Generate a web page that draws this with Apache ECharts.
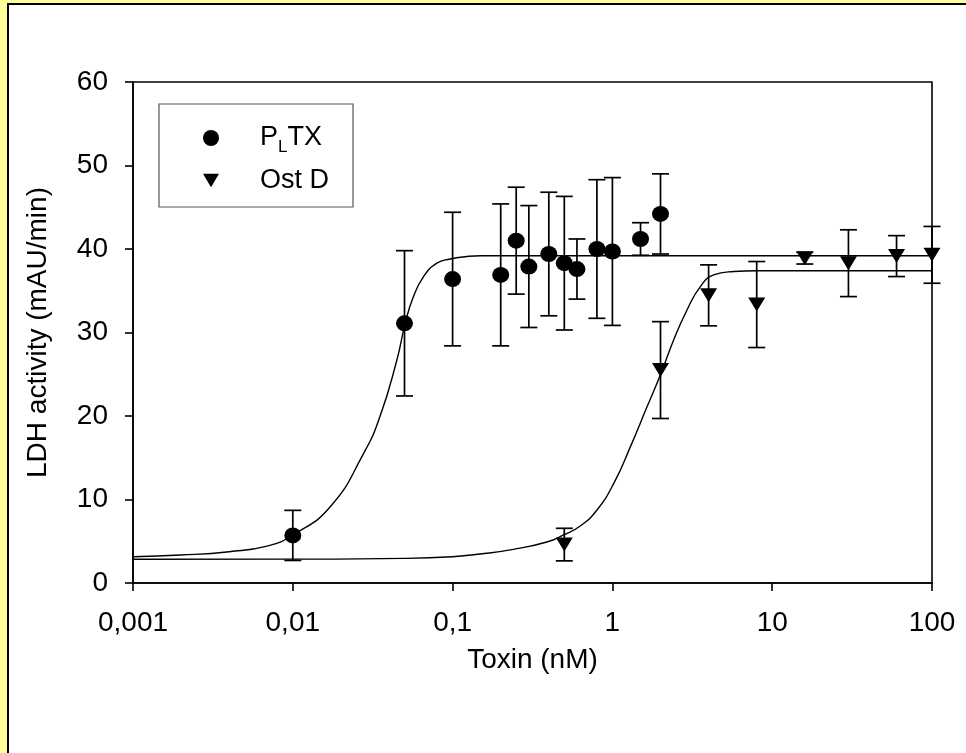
<!DOCTYPE html>
<html><head><meta charset="utf-8">
<script src="https://cdn.jsdelivr.net/npm/echarts@6/dist/echarts.min.js"></script>
<style>html,body{margin:0;padding:0;background:#FFFF99;}#c{width:966px;height:753px;}</style>
</head><body><div id="c"></div>
<script>
// ---- data ----
const xTickLabels = ['0,001', '0,01', '0,1', '1', '10', '100'];
const yTicks = [0, 10, 20, 30, 40, 50, 60];

const pltxX   = [0.01, 0.05, 0.1, 0.2, 0.25, 0.3, 0.4, 0.5, 0.6, 0.8, 1, 1.5, 2];
const pltxY   = [5.7, 31.1, 36.4, 36.9, 41.0, 37.9, 39.4, 38.3, 37.6, 40.0, 39.7, 41.2, 44.2];
const pltxErr = [3.0, 8.7, 8.0, 8.5, 6.4, 7.3, 7.4, 8.0, 3.6, 8.3, 8.85, 1.95, 4.8];

const ostX   = [0.5, 2, 4, 8, 16, 30, 60, 100];
const ostY   = [4.6, 25.5, 34.45, 33.35, 38.9, 38.3, 39.15, 39.3];
const ostErr = [1.95, 5.8, 3.65, 5.15, 0.7, 4.0, 2.45, 3.4];

// fitted curves, points
const pltxCurveX = [0.001, 0.002, 0.004, 0.007, 0.01, 0.0171, 0.0277, 0.0352, 0.0448, 0.0505, 0.0569, 0.0658, 0.0797, 0.0966, 0.123, 0.15, 0.3, 1, 10, 100];
const pltxCurveY = [3.15, 3.35, 3.75, 4.45, 5.75, 9.1, 15.5, 20.0, 26.7, 31.1, 34.3, 36.7, 38.3, 38.8, 39.1, 39.2, 39.2, 39.2, 39.2, 39.2];
const ostCurveX = [0.001, 0.01, 0.05, 0.1, 0.149, 0.24, 0.389, 0.494, 0.629, 0.801, 1.018, 1.295, 1.647, 1.995, 2.417, 2.93, 3.55, 4.3, 5.74, 8, 20, 100];
const ostCurveY = [2.84, 2.86, 2.95, 3.15, 3.47, 4.03, 4.91, 5.75, 6.83, 8.74, 11.9, 16.3, 21.1, 24.9, 29.1, 32.7, 35.5, 36.9, 37.3, 37.4, 37.4, 37.4];

const seriesNames = ['PLTX', 'Ost D'];

// ---- chart ----
const FONT = 'Liberation Sans, Arial, sans-serif';
const chart = echarts.init(document.getElementById('c'), null, {renderer: 'canvas'});
const zip = (a, b) => a.map((v, i) => [v, b[i]]);
const errData = (xs, ys, es) => xs.map((x, i) => [x, ys[i] - es[i], ys[i] + es[i]]);
const downTri = 'path://M0,0L20,0L10,17Z';

function errRender(params, api) {
  const x = api.value(0);
  const p1 = api.coord([x, api.value(2)]);
  const p2 = api.coord([x, api.value(1)]);
  const hw = 8.5;
  const st = {stroke: '#000', lineWidth: 1.7, fill: null};
  return {type: 'group', children: [
    {type: 'line', shape: {x1: p1[0], y1: p1[1], x2: p2[0], y2: p2[1]}, style: st},
    {type: 'line', shape: {x1: p1[0] - hw, y1: p1[1], x2: p1[0] + hw, y2: p1[1]}, style: st},
    {type: 'line', shape: {x1: p2[0] - hw, y1: p2[1], x2: p2[0] + hw, y2: p2[1]}, style: st}
  ]};
}

const option = {
  backgroundColor: '#FFFF99',
  animation: false,
  graphic: [{
    type: 'rect', z: -100, silent: true,
    shape: {x: 8, y: 4, width: 1000, height: 800},
    style: {fill: '#fff', stroke: '#000', lineWidth: 2}
  }],
  grid: {left: 133, top: 82, right: 34, bottom: 170, show: true, borderColor: '#000', borderWidth: 1.6, backgroundColor: 'transparent'},
  legend: {
    orient: 'vertical', left: 159, top: 104,
    padding: [16, 24, 13, 44],
    itemWidth: 16, itemHeight: 16, itemGap: 11,
    backgroundColor: '#fff', borderColor: '#555', borderWidth: 1.2,
    data: seriesNames,
    formatter: n => n === 'PLTX' ? '{b|P}{s|L}{b|TX}' : '{b|' + n + '}',
    textStyle: {
      height: 30, padding: [0, 0, 0, 36], color: '#000',
      rich: {
        b: {fontSize: 27, fontFamily: FONT, lineHeight: 30, color: '#000'},
        s: {fontSize: 17, fontFamily: FONT, lineHeight: 17, padding: [19, 0, 0, 0], color: '#000'}
      }
    }
  },
  xAxis: {
    type: 'log', logBase: 10, min: 0.001, max: 100,
    name: 'Toxin (nM)', nameLocation: 'middle', nameGap: 63,
    nameTextStyle: {fontSize: 28, fontFamily: FONT, color: '#000'},
    axisLine: {onZero: false, lineStyle: {color: '#000', width: 1.6}},
    axisTick: {show: true, inside: false, length: 8, lineStyle: {color: '#000', width: 1.6}},
    minorTick: {show: false},
    splitLine: {show: false},
    axisLabel: {
      fontSize: 28, fontFamily: FONT, color: '#000', margin: 26,
      formatter: v => xTickLabels[Math.round(Math.log10(v)) + 3]
    }
  },
  yAxis: {
    type: 'value', min: yTicks[0], max: yTicks[yTicks.length - 1], interval: 10,
    name: 'LDH activity (mAU/min)', nameLocation: 'middle', nameGap: 81,
    nameTextStyle: {fontSize: 28, fontFamily: FONT, color: '#000'},
    axisLine: {show: true, lineStyle: {color: '#000', width: 1.6}},
    axisTick: {show: true, inside: false, length: 8, lineStyle: {color: '#000', width: 1.6}},
    splitLine: {show: false},
    axisLabel: {fontSize: 28, fontFamily: FONT, color: '#000', margin: 25}
  },
  series: [
    {name: 'pltxFit', type: 'line', data: zip(pltxCurveX, pltxCurveY), showSymbol: false, smooth: 0.5,
     lineStyle: {color: '#000', width: 1.4}, z: 2, silent: true},
    {name: 'ostFit', type: 'line', data: zip(ostCurveX, ostCurveY), showSymbol: false, smooth: 0.5,
     lineStyle: {color: '#000', width: 1.4}, z: 2, silent: true},
    {name: 'pltxErr', type: 'custom', renderItem: errRender, data: errData(pltxX, pltxY, pltxErr), encode: {x: 0, y: [1, 2]}, z: 3},
    {name: 'ostErr', type: 'custom', renderItem: errRender, data: errData(ostX, ostY, ostErr), encode: {x: 0, y: [1, 2]}, z: 3},
    {name: 'PLTX', type: 'scatter', data: zip(pltxX, pltxY), symbol: 'circle', symbolSize: [17, 16],
     itemStyle: {color: '#000', opacity: 1}, z: 4},
    {name: 'Ost D', type: 'scatter', data: zip(ostX, ostY), symbol: downTri, symbolSize: [17, 14],
     itemStyle: {color: '#000', opacity: 1}, z: 4}
  ]
};
chart.setOption(option);
</script></body></html>
